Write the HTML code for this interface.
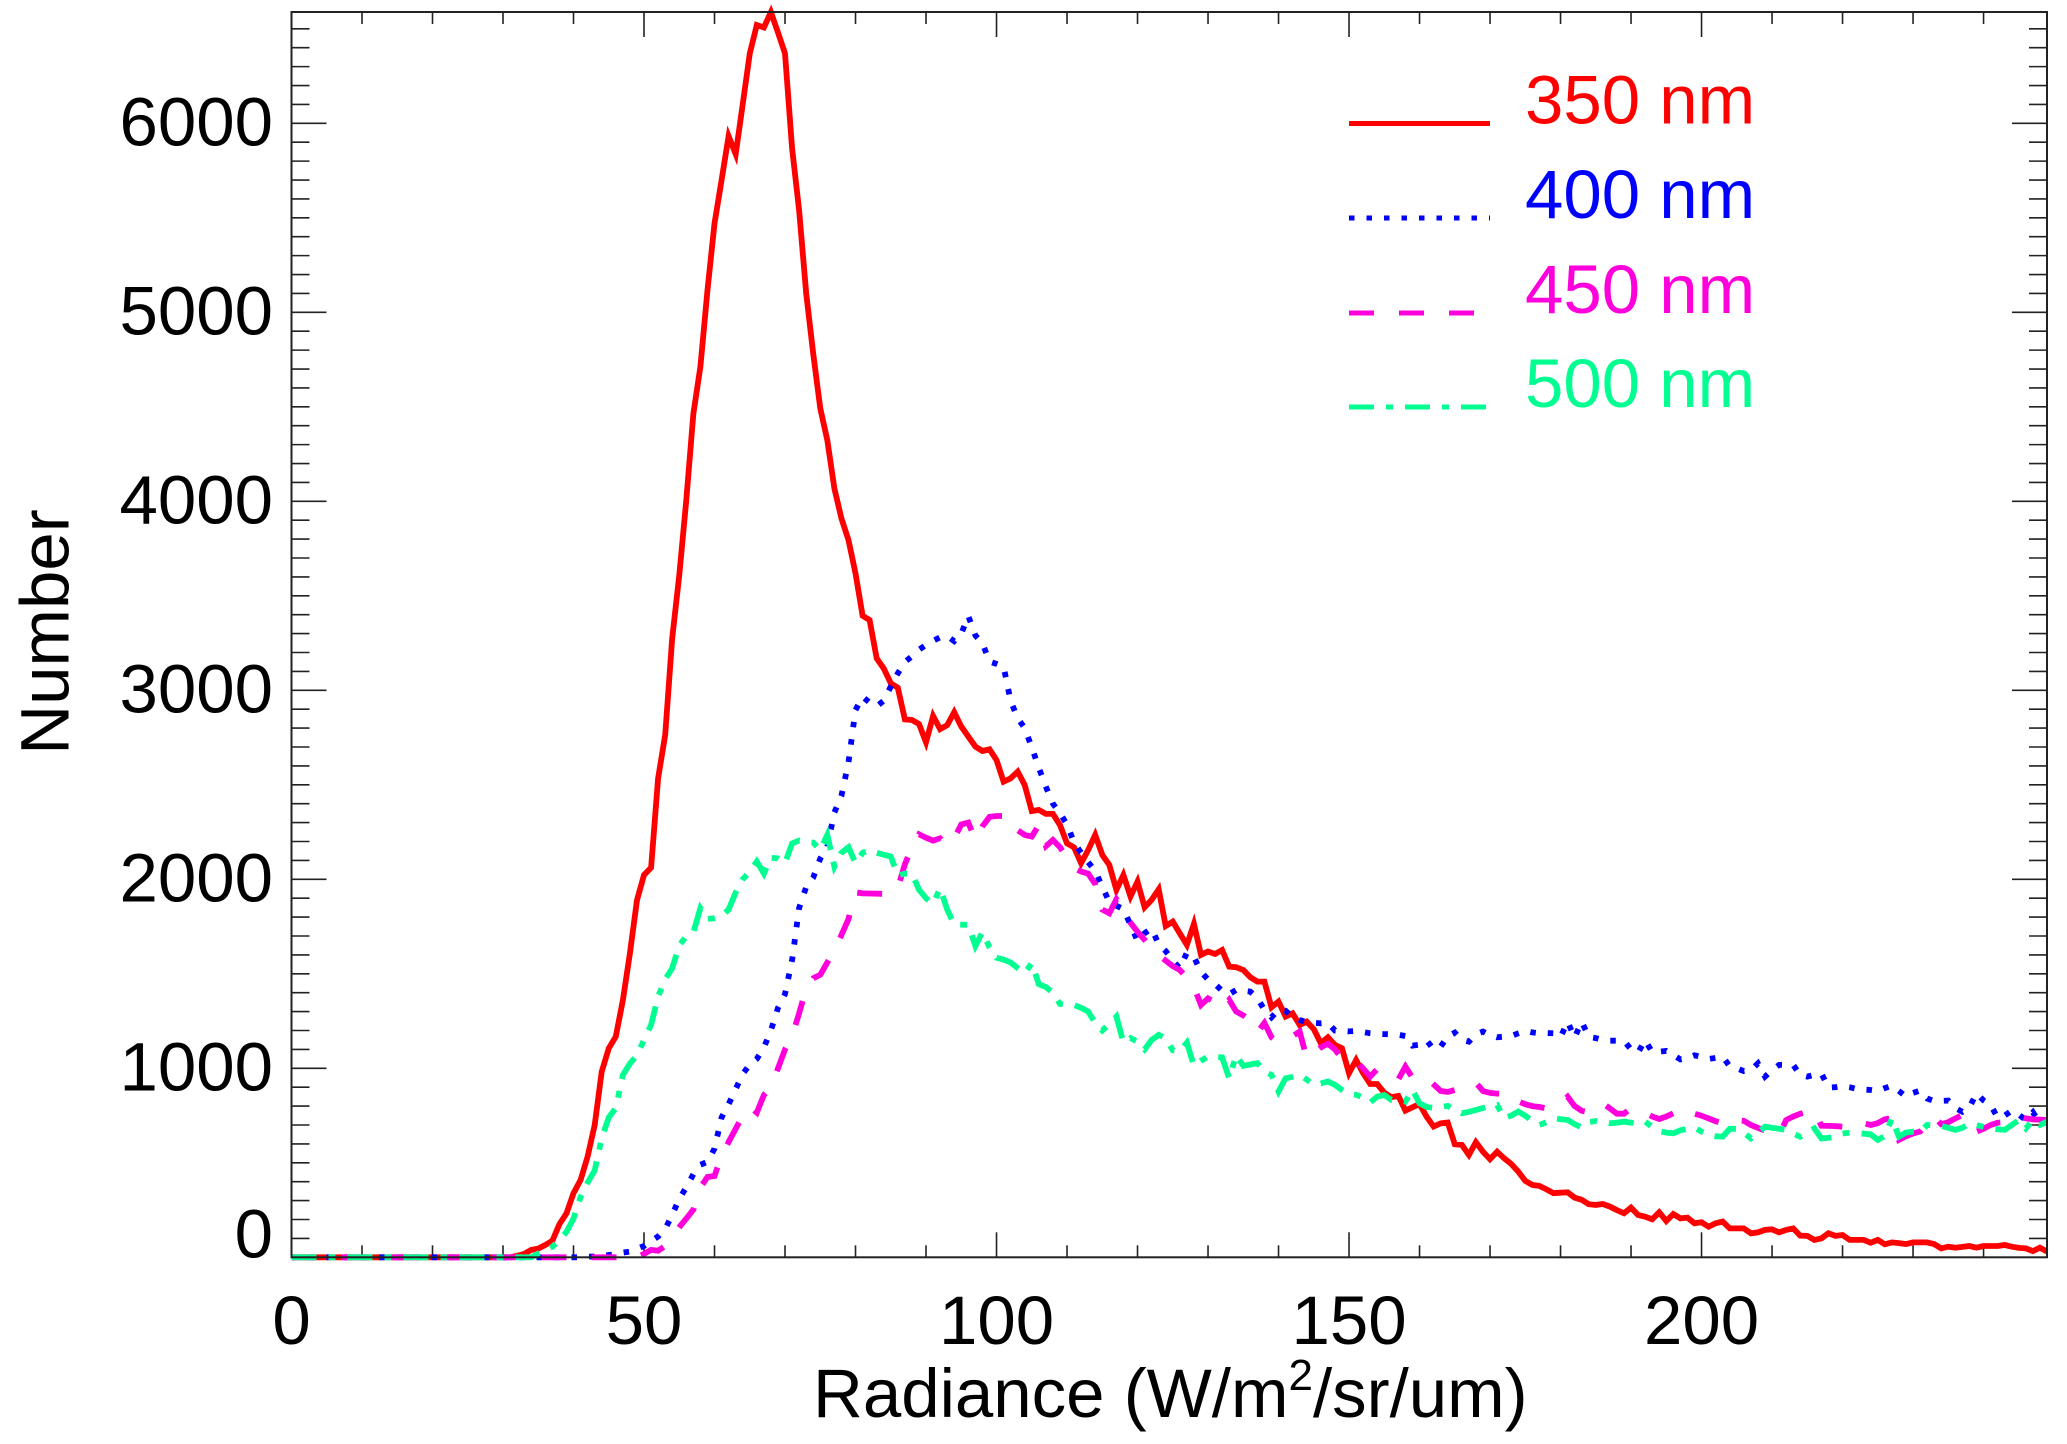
<!DOCTYPE html>
<html lang="en">
<head>
<meta charset="utf-8">
<title>Radiance histogram</title>
<style>
html,body{margin:0;padding:0;background:#fff;}
svg{display:block;}
text{font-family:"Liberation Sans",Arial,sans-serif;fill:#000;}
</style>
</head>
<body>
<svg id="chart" xmlns="http://www.w3.org/2000/svg" width="2067" height="1444" viewBox="0 0 2067 1444">
  <rect x="0" y="0" width="2067" height="1444" fill="#ffffff"/>
  <g id="ticks"></g>
  <g id="series"></g>
  <rect x="291.5" y="12" width="1755.5" height="1245.3" fill="none" stroke="#222" stroke-width="2"/>
  <g id="labels" font-size="69"></g>
  <text x="813" y="1417" font-size="69">Radiance (W/m<tspan dy="-27" font-size="44">2</tspan><tspan dy="27">/sr/um)</tspan></text>
  <text transform="translate(68.5,632) rotate(-90)" text-anchor="middle" font-size="69">Number</text>
  <g id="legend" font-size="69"></g>
</svg>
<script>
var xTickLabels = [0, 50, 100, 150, 200];
var yTickLabels = [0, 1000, 2000, 3000, 4000, 5000, 6000];
var seriesNames = ['350 nm', '400 nm', '450 nm', '500 nm'];

var values350 = [
0,0,0,0,0,0,0,0,0,0,
0,0,0,0,0,0,0,0,0,0,
0,0,0,0,0,0,0,0,0,0,
0,0,8,18,39,46,65,88,175,233,
339,409,533,700,982,1106,1168,1361,1608,1890,
2023,2062,2534,2764,3275,3610,4007,4465,4712,5118,
5470,5700,5932,5837,6100,6370,6520,6507,6588,6480,
6370,5867,5541,5100,4782,4491,4324,4068,3910,3795,
3619,3395,3372,3169,3116,3037,3014,2846,2843,2822,
2725,2864,2795,2816,2884,2808,2755,2702,2679,2688,
2631,2517,2534,2570,2499,2361,2367,2346,2346,2287,
2190,2169,2085,2155,2235,2129,2076,1944,2023,1909,
1988,1852,1891,1947,1753,1776,1714,1653,1764,1600,
1618,1605,1626,1538,1535,1520,1482,1459,1459,1323,
1353,1274,1291,1229,1247,1207,1133,1164,1124,1106,
974,1044,974,917,917,871,847,854,776,794,
811,744,692,709,713,598,595,542,609,559,
519,559,524,494,454,404,383,378,360,339,
342,344,316,304,281,277,282,268,250,233,
263,224,215,201,238,192,229,206,210,180,
185,162,180,189,153,153,153,127,132,145,
148,132,145,153,115,113,92,100,127,113,
118,92,92,92,77,92,69,79,75,70,
79,79,79,70,47,56,51,55,60,51,
60,60,60,65,56,50,47,33,51,30
];

var values400 = [
0,0,0,0,0,0,0,0,0,0,
0,0,0,0,0,0,0,0,0,0,
0,0,0,0,0,0,0,0,0,0,
0,0,0,0,0,0,0,0,0,0,
0,0,3,4,6,12,16,25,30,45,
60,85,110,150,225,310,370,440,490,505,
575,740,810,890,970,1020,1050,1110,1200,1320,
1393,1573,1848,1960,2009,2110,2173,2354,2441,2619,
2896,2966,2935,2915,2945,3020,3090,3150,3180,3215,
3240,3262,3280,3287,3260,3300,3393,3290,3250,3152,
3140,3125,2945,2852,2800,2698,2590,2490,2400,2350,
2290,2194,2140,2090,2045,1960,1880,1860,1843,1759,
1674,1715,1740,1656,1620,1570,1529,1612,1590,1510,
1470,1445,1410,1392,1415,1410,1406,1370,1310,1270,
1310,1305,1270,1255,1245,1240,1238,1240,1200,1198,
1195,1198,1192,1185,1182,1181,1180,1178,1171,1120,
1125,1148,1100,1115,1170,1189,1150,1141,1180,1194,
1175,1164,1168,1171,1185,1198,1190,1185,1187,1185,
1164,1247,1162,1247,1166,1160,1150,1146,1146,1146,
1100,1083,1150,1085,1088,1092,1070,1047,1055,1069,
1060,1049,1055,1062,1010,1000,985,990,1026,956,
990,1018,1018,1018,965,956,965,973,898,900,
906,900,891,888,885,880,895,908,880,850,
870,882,840,827,828,829,790,770,793,868,
830,806,739,750,776,755,726,767,709,723
];

var values450 = [
0,0,0,0,0,0,0,0,0,0,
0,0,0,0,0,0,0,0,0,0,
0,0,0,0,0,0,0,0,0,0,
0,0,0,0,0,0,0,0,0,0,
0,0,0,0,0,0,0,0,0,0,
18,39,35,60,110,160,205,253,370,425,
430,540,610,680,750,797,765,859,900,1000,
1100,1171,1291,1423,1476,1495,1560,1623,1705,1790,
1930,1926,1925,1924,1923,1950,1953,2080,2170,2238,
2220,2205,2217,2178,2217,2290,2300,2208,2280,2330,
2335,2335,2335,2260,2235,2226,2288,2175,2208,2170,
2110,2060,2041,2030,1975,1840,1820,1894,1838,1770,
1722,1680,1630,1600,1570,1540,1520,1480,1430,1335,
1370,1350,1312,1362,1300,1280,1251,1190,1240,1164,
1133,1150,1170,1194,1053,1080,1110,1130,1100,1050,
1040,1036,1000,956,995,975,960,942,1009,950,
945,950,915,880,875,885,895,905,924,880,
870,866,865,868,825,810,800,795,788,800,
815,850,800,775,767,788,815,788,760,760,
790,783,765,745,732,745,762,772,790,760,
749,735,720,710,700,726,722,700,685,670,
655,647,726,745,760,770,779,696,695,694,
691,710,721,710,700,710,730,735,621,640,
655,665,705,744,704,715,735,753,691,665,
680,700,712,715,718,744,735,730,728,726
];

var values500 = [
0,0,0,0,0,0,0,0,0,0,
0,0,0,0,0,0,0,0,0,0,
0,0,0,0,0,0,0,0,0,0,
0,0,0,0,0,20,35,56,90,135,
205,320,395,460,630,740,790,965,1025,1070,
1150,1230,1380,1470,1530,1650,1700,1720,1847,1790,
1795,1806,1840,1930,2000,2040,2094,2030,2115,2110,
2085,2190,2205,2195,2194,2155,2235,2067,2140,2170,
2085,2140,2155,2140,2130,2120,2020,2030,2030,1945,
1900,1870,1953,1840,1760,1760,1759,1647,1720,1640,
1585,1575,1560,1530,1503,1556,1445,1430,1400,1340,
1335,1335,1320,1300,1240,1200,1235,1274,1136,1160,
1140,1100,1150,1177,1159,1095,1090,1136,1013,1040,
1062,1060,1058,947,1070,1013,1020,1027,983,965,
877,947,955,965,940,912,920,930,912,885,
865,860,845,819,850,859,833,830,824,886,
815,795,790,795,801,780,762,770,780,790,
800,806,736,750,771,750,720,700,715,736,
730,727,705,686,715,721,715,709,712,718,
712,709,718,690,668,660,656,672,680,686,
665,647,640,638,680,680,660,629,660,691,
685,680,674,655,638,660,682,629,632,638,
655,660,656,654,651,621,642,735,638,660,
665,665,700,698,695,685,674,685,709,700,
690,682,678,674,700,726,682,726,700,718
];

var allValues = [values350, values400, values450, values500];
var seriesColors = ['#ff0000', '#0000ff', '#ff00dd', '#00ff90'];
var seriesDashes = ['none', '5.5 12', '25 25', '25 12 7 12'];

var SVGNS = 'http://www.w3.org/2000/svg';
var plotLeft = 291.5, plotRight = 2047, plotTop = 12, plotBottom = 1257.3;
var xMax = 249, yMax = 6589;
function xPos(v) { return plotLeft + v * (plotRight - plotLeft) / xMax; }
function yPos(v) { return plotBottom - v * (plotBottom - plotTop) / yMax; }

var tickGroup = document.getElementById('ticks');
var seriesGroup = document.getElementById('series');
var labelGroup = document.getElementById('labels');
var legendGroup = document.getElementById('legend');

function tickLine(x1, y1, x2, y2) {
  var l = document.createElementNS(SVGNS, 'line');
  l.setAttribute('x1', x1);
  l.setAttribute('y1', y1);
  l.setAttribute('x2', x2);
  l.setAttribute('y2', y2);
  l.setAttribute('stroke', '#222');
  l.setAttribute('stroke-width', '1.6');
  
  
  tickGroup.appendChild(l);
}

for (var tx = 10; tx < xMax; tx += 10) {
  var lenX = tx % 50 === 0 ? 25 : 12;
  tickLine(xPos(tx), plotBottom, xPos(tx), plotBottom - lenX);
  tickLine(xPos(tx), plotTop, xPos(tx), plotTop + lenX);
}
for (var ty = 100; ty < yMax; ty += 100) {
  var lenY = ty % 1000 === 0 ? 35 : 18;
  tickLine(plotLeft, yPos(ty), plotLeft + lenY, yPos(ty));
  tickLine(plotRight, yPos(ty), plotRight - lenY, yPos(ty));
}

allValues.forEach(function (vals, s) {
  var pts = [];
  for (var i = 0; i < vals.length; i++) {
    pts.push(xPos(i).toFixed(1) + ',' + yPos(vals[i]).toFixed(1));
  }
  var line = document.createElementNS(SVGNS, 'polyline');
  line.setAttribute('points', pts.join(' '));
  line.setAttribute('fill', 'none');
  line.setAttribute('stroke', seriesColors[s]);
  line.setAttribute('stroke-width', '5.8');
  line.setAttribute('stroke-linejoin', 'miter');
  line.setAttribute('stroke-miterlimit', '6');
  if (seriesDashes[s] !== 'none') line.setAttribute('stroke-dasharray', seriesDashes[s]);
  
  
  seriesGroup.appendChild(line);
});

xTickLabels.forEach(function (v) {
  var t = document.createElementNS(SVGNS, 'text');
  t.setAttribute('x', xPos(v));
  t.setAttribute('y', 1344);
  t.setAttribute('text-anchor', 'middle');
  t.textContent = v;
  
  
  labelGroup.appendChild(t);
});

yTickLabels.forEach(function (v) {
  var t = document.createElementNS(SVGNS, 'text');
  t.setAttribute('x', 273);
  t.setAttribute('y', v === 0 ? yPos(0) : yPos(v) + 22);
  t.setAttribute('text-anchor', 'end');
  t.textContent = v;
  
  
  labelGroup.appendChild(t);
});

var legendLineEnds = [1490, 1490, 1474, 1487];
var legendBaselines = [123.5, 218, 313, 407];
seriesNames.forEach(function (name, s) {
  var swatch = document.createElementNS(SVGNS, 'line');
  swatch.setAttribute('x1', 1349);
  swatch.setAttribute('x2', legendLineEnds[s]);
  swatch.setAttribute('y1', legendBaselines[s]);
  swatch.setAttribute('y2', legendBaselines[s]);
  swatch.setAttribute('stroke', seriesColors[s]);
  swatch.setAttribute('stroke-width', '5');
  if (seriesDashes[s] !== 'none') swatch.setAttribute('stroke-dasharray', seriesDashes[s]);
  
  
  legendGroup.appendChild(swatch);
  var label = document.createElementNS(SVGNS, 'text');
  label.setAttribute('x', 1525);
  label.setAttribute('y', legendBaselines[s]);
  label.setAttribute('style', 'fill:' + (s === 2 ? '#ff00dd' : seriesColors[s]));
  label.textContent = name;
  
  
  legendGroup.appendChild(label);
});
</script>
</body>
</html>
